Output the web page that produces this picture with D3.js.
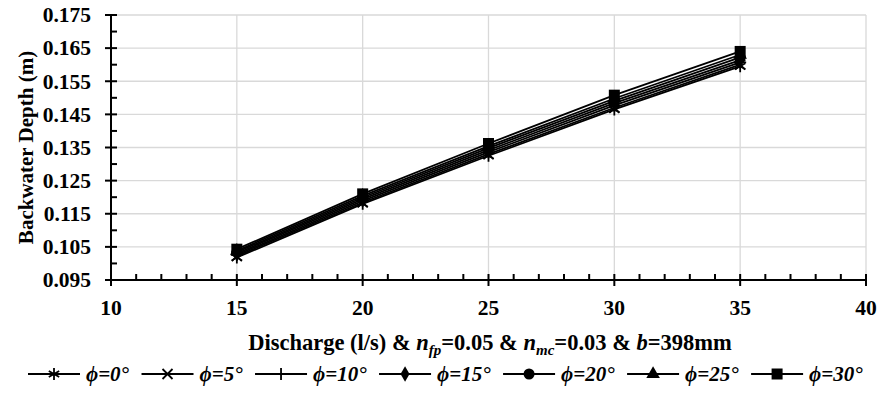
<!DOCTYPE html>
<html>
<head>
<meta charset="utf-8">
<script src="https://cdn.jsdelivr.net/npm/d3@7"></script>
</head>
<body style="margin:0; background:#fff">
<svg id="chart"></svg>
<script>
var discharge = [15, 20, 25, 30, 35];
var angles = ["0", "5", "10", "15", "20", "25", "30"];
var depth0  = [0.1018, 0.1180, 0.1325, 0.1465, 0.1595];
var depth5  = [0.1022, 0.1184, 0.1330, 0.1470, 0.1600];
var depth10 = [0.1026, 0.1189, 0.1336, 0.1477, 0.1607];
var depth15 = [0.1030, 0.1194, 0.1342, 0.1484, 0.1614];
var depth20 = [0.1034, 0.1199, 0.1348, 0.1491, 0.1622];
var depth25 = [0.1038, 0.1204, 0.1354, 0.1498, 0.1630];
var depth30 = [0.1043, 0.1210, 0.1362, 0.1508, 0.1640];
var depths = [depth0, depth5, depth10, depth15, depth20, depth25, depth30];
var markers = ["asterisk", "cross", "plus", "diamond", "circle", "triangle", "square"];
var xTicks = [10, 15, 20, 25, 30, 35, 40];
var yTicks = [0.095, 0.105, 0.115, 0.125, 0.135, 0.145, 0.155, 0.165, 0.175];

var width = 880, height = 397;
var margin = { left: 111, right: 14, top: 15, bottom: 117 };

var svg = d3.select("#chart")
    .attr("width", width)
    .attr("height", height)
    .attr("font-family", "'Liberation Serif', 'Times New Roman', serif")
    .attr("font-weight", "bold");

var x = d3.scaleLinear()
          .domain([10, 40])
          .range([margin.left, width - margin.right]);
var y = d3.scaleLinear()
          .domain([0.095, 0.175])
          .range([height - margin.bottom, margin.top]);

// gridlines
svg.append("g")
  .selectAll("line")
  .data(xTicks.slice(1))
  .enter().append("line")
    .attr("x1", d => x(d)).attr("x2", d => x(d))
    .attr("y1", y(0.175)).attr("y2", y(0.095))
    .attr("stroke", "#d9d9d9").attr("stroke-width", 1.3);
svg.append("g")
  .selectAll("line")
  .data(yTicks.slice(1))
  .enter().append("line")
    .attr("x1", x(10)).attr("x2", x(40))
    .attr("y1", d => y(d)).attr("y2", d => y(d))
    .attr("stroke", "#d9d9d9").attr("stroke-width", 1.3);

// axes
var axisY = y(0.095), axisX = x(10);
var ax = svg.append("g").attr("stroke", "#000").attr("stroke-width", 2);
ax.append("line").attr("x1", x(10)).attr("x2", x(40)).attr("y1", axisY).attr("y2", axisY);
ax.append("line").attr("x1", axisX).attr("x2", axisX).attr("y1", y(0.175)).attr("y2", axisY);

d3.range(10, 40.5, 1).forEach(v => {
  var major = v % 5 === 0;
  ax.append("line")
    .attr("x1", x(v)).attr("x2", x(v))
    .attr("y1", axisY - 6).attr("y2", major ? axisY + 6 : axisY);
});
d3.range(0.095, 0.1755, 0.005).forEach((v, i) => {
  var major = i % 2 === 0;
  ax.append("line")
    .attr("y1", y(v)).attr("y2", y(v))
    .attr("x1", major ? axisX - 6 : axisX).attr("x2", axisX + 6);
});

svg.append("g")
  .selectAll("text")
  .data(xTicks)
  .enter().append("text")
    .attr("x", d => x(d))
    .attr("y", axisY + 35)
    .attr("text-anchor", "middle")
    .attr("font-size", 21.5)
    .text(d => d);
svg.append("g")
  .selectAll("text")
  .data(yTicks)
  .enter().append("text")
    .attr("x", axisX - 20)
    .attr("y", d => y(d))
    .attr("dy", "0.34em")
    .attr("text-anchor", "end")
    .attr("font-size", 21.5)
    .text(d => d3.format(".3f")(d));

// axis titles
svg.append("text")
    .attr("transform", "translate(33," + ((42 + 253) / 2) + ") rotate(-90)")
    .attr("text-anchor", "middle")
    .attr("font-size", 21)
    .text("Backwater Depth (m)");

var xt = svg.append("text")
    .attr("x", 490)
    .attr("y", 350)
    .attr("text-anchor", "middle")
    .attr("font-size", 22.5);
xt.append("tspan").text("Discharge (l/s) & ");
xt.append("tspan").attr("font-style", "italic").text("n");
xt.append("tspan").attr("font-style", "italic").attr("font-size", 15).attr("dy", 5).text("fp");
xt.append("tspan").attr("dy", -5).text("=0.05 & ");
xt.append("tspan").attr("font-style", "italic").text("n");
xt.append("tspan").attr("font-style", "italic").attr("font-size", 15).attr("dy", 5).text("mc");
xt.append("tspan").attr("dy", -5).text("=0.03 & ");
xt.append("tspan").attr("font-style", "italic").text("b");
xt.append("tspan").text("=398mm");

function drawMarker(g, type, cx, cy) {
  var s = 6;
  if (type === "asterisk") {
    var p = "";
    [90, 30, 150].forEach(a => {
      var r = a * Math.PI / 180;
      p += "M" + (cx - s * Math.cos(r)) + "," + (cy - s * Math.sin(r)) +
           "L" + (cx + s * Math.cos(r)) + "," + (cy + s * Math.sin(r));
    });
    g.append("path").attr("d", p).attr("stroke", "#000").attr("stroke-width", 1.8);
  } else if (type === "cross") {
    s = 5;
    g.append("path")
      .attr("d", `M${cx-s},${cy-s}L${cx+s},${cy+s}M${cx-s},${cy+s}L${cx+s},${cy-s}`)
      .attr("stroke", "#000").attr("stroke-width", 1.8);
  } else if (type === "plus") {
    g.append("path")
      .attr("d", `M${cx-s},${cy}L${cx+s},${cy}M${cx},${cy-s}L${cx},${cy+s}`)
      .attr("stroke", "#000").attr("stroke-width", 1.8);
  } else {
    var sym = { diamond: d3.symbolDiamond, circle: d3.symbolCircle,
                triangle: d3.symbolTriangle, square: d3.symbolSquare }[type];
    var size = { diamond: 70, circle: 95, triangle: 80, square: 121 }[type];
    g.append("path")
      .attr("d", d3.symbol().type(sym).size(size)())
      .attr("transform", "translate(" + cx + "," + cy + ")")
      .attr("fill", "#000");
  }
}

var line = d3.line()
    .x((d, i) => x(discharge[i]))
    .y(d => y(d));

depths.forEach((series, k) => {
  var g = svg.append("g");
  g.append("path")
    .attr("d", line(series))
    .attr("fill", "none")
    .attr("stroke", "#000")
    .attr("stroke-width", 1.8);
  series.forEach((d, i) => drawMarker(g, markers[k], x(discharge[i]), y(d)));
});

// legend
var legend = svg.append("g");
var lx = 28, ly = 374;
angles.forEach((a, k) => {
  var g = legend.append("g");
  g.append("line")
    .attr("x1", lx).attr("x2", lx + 52)
    .attr("y1", ly).attr("y2", ly)
    .attr("stroke", "#000").attr("stroke-width", 1.8);
  drawMarker(g, markers[k], lx + 26, ly);
  var t = g.append("text")
    .attr("x", lx + 58)
    .attr("y", ly)
    .attr("dy", "0.35em")
    .attr("font-size", 21)
    .attr("font-style", "italic")
    .text("\u03d5=" + a + "\u00b0");
  lx += 58 + t.node().getComputedTextLength() + 12.5;
});
</script>
</body>
</html>
